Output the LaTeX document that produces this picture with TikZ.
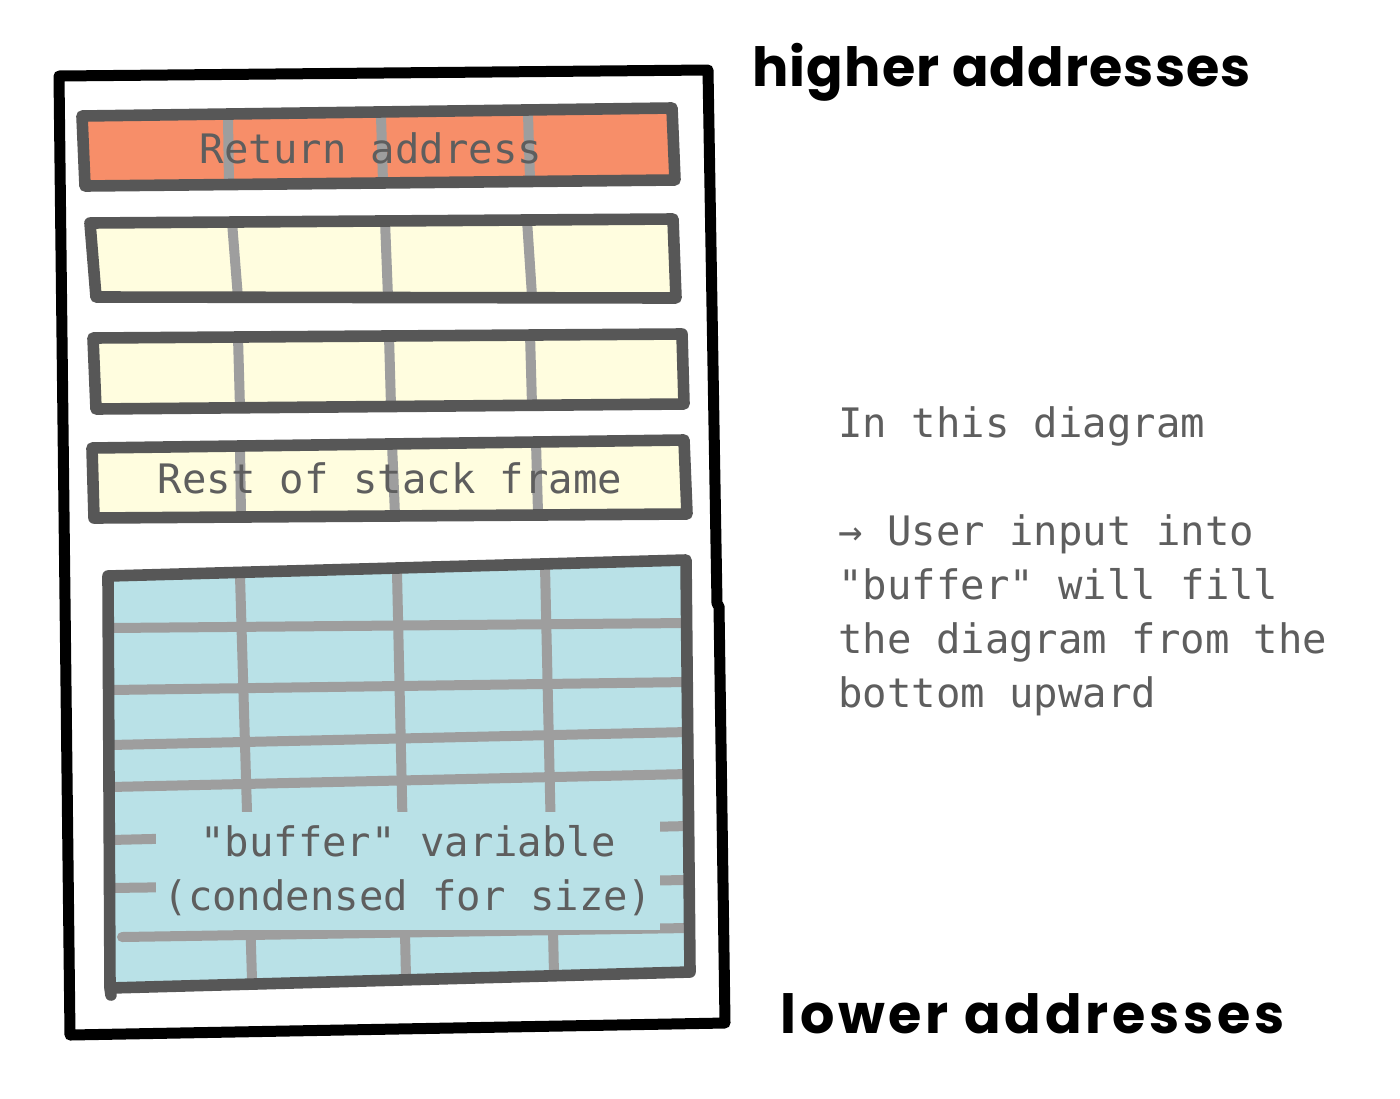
\documentclass[tikz,border=0pt]{standalone}
\usepackage{fontspec}
\newfontfamily\monofont{DejaVu Sans Mono}
\newfontfamily\handfont{Poppins}
\definecolor{outline}{HTML}{575757}
\definecolor{divider}{HTML}{9E9E9E}
\definecolor{retfill}{HTML}{F78E69}
\definecolor{framefill}{HTML}{FFFDDF}
\definecolor{buffill}{HTML}{B9E1E7}
\definecolor{textgray}{HTML}{5E5E5E}
\begin{document}
\begin{tikzpicture}[x=0.5pt, y=-0.5pt, line join=round, line cap=round,
    cellbox/.style={draw=outline, line width=5.8pt},
    divider/.style={draw=divider, line width=5pt, line cap=butt},
    monolabel/.style={font=\monofont\fontsize{20.3}{27}\selectfont, text=textgray, inner sep=0pt},
    hand/.style={font={\handfont\bfseries\fontsize{27}{30}\selectfont\addfontfeature{LetterSpace=#1}}, text=black, inner sep=0pt}]
    \useasboundingbox (0,0) rectangle (1400,1098);

    % Return address
    \fill[retfill] (82,116) -- (672,108) -- (675,180) -- (85,186) -- cycle;
    \foreach \xa/\ya/\xb/\yb in {228/118/229/184, 381/116/383/182, 528/114/530/180} {
        \draw[divider] (\xa,\ya) -- (\xb,\yb);
    }
    \node[monolabel, anchor=base] (retlabel) at (371,163) {Return address};
    \draw[cellbox] (82,116) -- (672,108) -- (675,180) -- (85,186) -- cycle;

    % Empty stack cells
    \fill[framefill] (90,223) -- (673,219) -- (676,298) -- (96,297) -- cycle;
    \foreach \xa/\ya/\xb/\yb in {232/222/238/298, 385/221/388/297, 527/220/532/296} {
        \draw[divider] (\xa,\ya) -- (\xb,\yb);
    }
    \draw[cellbox] (90,223) -- (673,219) -- (676,298) -- (96,297) -- cycle;

    \fill[framefill] (93,338) -- (682,334) -- (684,404) -- (96,409) -- cycle;
    \foreach \xa/\ya/\xb/\yb in {238/337/240/408, 389/336/391/406, 530/334/532/405} {
        \draw[divider] (\xa,\ya) -- (\xb,\yb);
    }
    \draw[cellbox] (93,338) -- (682,334) -- (684,404) -- (96,409) -- cycle;

    % Rest of stack frame
    \fill[framefill] (92,448) -- (684,440) -- (687,514) -- (94,518) -- cycle;
    \foreach \xa/\ya/\xb/\yb in {240/446/241/517, 392/444/395/515, 536/442/538/513} {
        \draw[divider] (\xa,\ya) -- (\xb,\yb);
    }
    \node[monolabel, anchor=base] (restlabel) at (390,493) {Rest of stack frame};
    \draw[cellbox] (92,448) -- (684,440) -- (687,514) -- (94,518) -- cycle;

    % Buffer grid
    \fill[buffill] (108,576) -- (686,560) -- (690,972) -- (110,988) -- cycle;
    \foreach \ya/\yb in {628/623, 690/682, 745/732, 787/774, 840/826, 888/880} {
        \draw[divider] (110,\ya) -- (688,\yb);
    }
    \draw[divider, line cap=round] (122,937) -- (688,928);
    \foreach \xa/\ya/\xb/\yb in {240/576/252/980, 397/572/406/978, 545/566/554/975} {
        \draw[divider] (\xa,\ya) -- (\xb,\yb);
    }
    \node[monolabel, fill=buffill, align=center, minimum width=252pt, minimum height=59pt] (buflabel) at (408,871)
        {"buffer" variable\\(condensed for size)};
    \draw[cellbox] (108,576) -- (686,560) -- (690,972) -- (110,988) -- cycle;
    \draw[cellbox] (110,988) -- (111,995);

    % Outer frame
    \draw[line width=5.5pt] (717,604) -- (708,70) -- (59,76) -- (70,1035) -- (725,1023) -- (719,606);

    % Notes
    \node[hand=2, anchor=base west] (high) at (752,86) {higher addresses};
    \node[hand=7, anchor=base west] (low) at (780,1033) {lower addresses};
    \node[monolabel, anchor=base west, align=left] (note) at (838,707)
        {In this diagram\\[27pt]→ User input into\\"buffer" will fill\\the diagram from the\\bottom upward};
\end{tikzpicture}
\end{document}
